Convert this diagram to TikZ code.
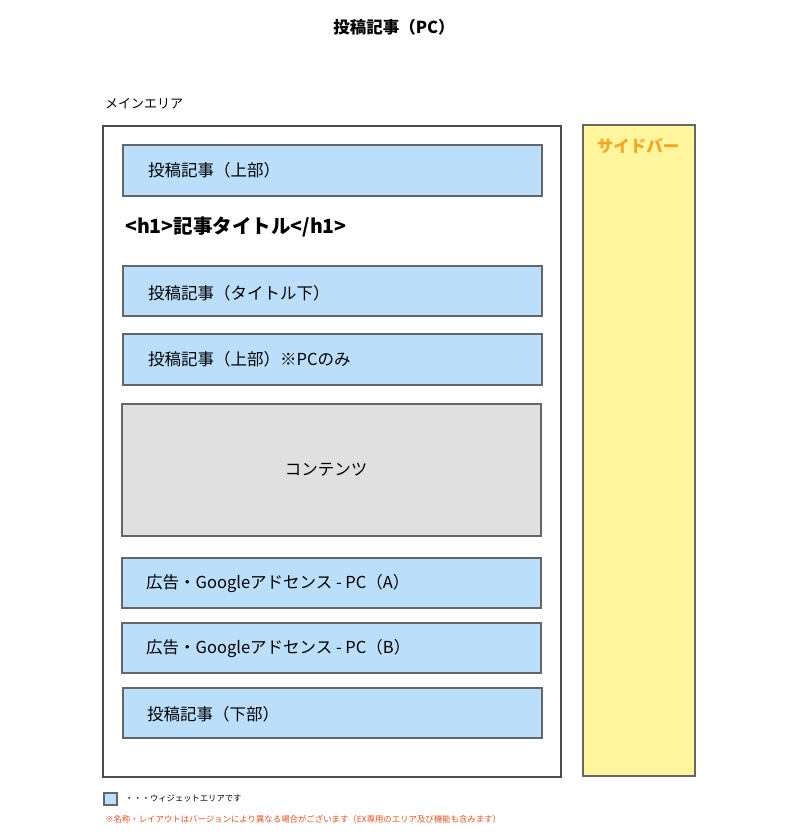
\documentclass[tikz,border=0pt]{standalone}
\usepackage{fontspec}
\setmainfont{Noto Sans CJK JP}
\begin{document}
\begin{tikzpicture}[x=1pt,y=-1pt,
  widget/.style={draw=black!60,line width=1.6pt,fill=wblue},
  lbl/.style={anchor=west,inner sep=0pt,font=\fontsize{16.5}{18}\selectfont},
]
\definecolor{wblue}{HTML}{BBDEFB}
\definecolor{wgray}{HTML}{E0E0E0}
\definecolor{wyellow}{HTML}{FFF59D}
\definecolor{worange}{HTML}{F5A623}
\definecolor{wred}{HTML}{E8501A}
\useasboundingbox (0,0) rectangle (800,840);
\node[font=\fontsize{16.5}{18}\selectfont\bfseries] (title) at (394,27) {投稿記事（PC）};
\node[anchor=west,inner sep=0pt,font=\fontsize{13}{15}\selectfont] (mainlbl) at (105,104) {メインエリア};
\draw[draw=black!70,line width=1.6pt,fill=white] (103,126) rectangle (561,777);
\node[draw=black!60,line width=1.6pt,fill=wyellow,minimum width=112,minimum height=651,inner sep=0pt,anchor=north west] (side) at (582,124) {};
\node[anchor=north,inner sep=0pt,text=worange,font=\fontsize{16.5}{18}\selectfont\bfseries] (sidelbl) at (638,138) {サイドバー};
\draw[widget] (123,145) rectangle (542,196);
\node[lbl] (w1) at (148,170.5) {投稿記事（上部）};
\node[anchor=west,inner sep=0pt,font=\fontsize{19.5}{21}\selectfont\bfseries] (h1) at (125,227) {<h1>記事タイトル</h1>};
\draw[widget] (123,266) rectangle (542,316);
\node[lbl] (w2) at (148,293) {投稿記事（タイトル下）};
\draw[widget] (123,334) rectangle (542,385);
\node[lbl] (w3) at (148,359.5) {投稿記事（上部）※PCのみ};
\draw[draw=black!60,line width=1.6pt,fill=wgray] (122,404) rectangle (541,536);
\node[font=\fontsize{16.5}{18}\selectfont,inner sep=0pt] (content) at (326,470) {コンテンツ};
\draw[widget] (122,558) rectangle (541,608);
\node[lbl] (w4) at (146,583) {広告・Googleアドセンス - PC（A）};
\draw[widget] (122,623) rectangle (541,673);
\node[lbl] (w5) at (146,648) {広告・Googleアドセンス - PC（B）};
\draw[widget] (123,688) rectangle (542,738);
\node[lbl] (w6) at (147,714) {投稿記事（下部）};
\draw[widget,line width=1.4pt] (104,793) rectangle (117,805);
\node[anchor=west,inner sep=0pt,font=\fontsize{8.3}{10}\selectfont] (legend) at (125,798) {・・・ウィジェットエリアです};
\node[anchor=west,inner sep=0pt,text=wred,font=\fontsize{8.4}{10}\selectfont] (note) at (105,819) {※名称・レイアウトはバージョンにより異なる場合がございます（EX専用のエリア及び機能も含みます）};
\end{tikzpicture}
\end{document}
